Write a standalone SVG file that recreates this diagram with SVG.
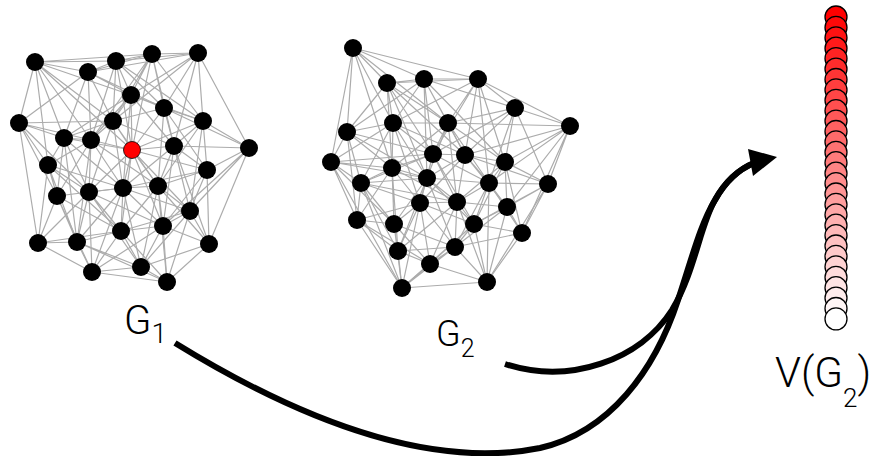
<svg xmlns="http://www.w3.org/2000/svg" width="875" height="456" viewBox="0 0 875 456">
<style>
.e{fill:none;stroke:#acacac;stroke-width:1.2}
.n{fill:#000}
.r{fill:#ff0000;stroke:#000;stroke-width:0.8}
.v{stroke:#000;stroke-width:1.3}
.a{fill:none;stroke:#000;stroke-width:6}
.t{font-family:Roboto,"Liberation Sans",sans-serif;font-weight:300;fill:#000}
</style>
<rect width="875" height="456" fill="#fff"/>
<g id="connectors">
<g id="edges-G1">
<path class="e" d="M35 62L88 72M35 62L116 61M35 62L152 54M35 62L131 95M35 62L19 123M35 62L64 138M35 62L91 140M35 62L113 121M35 62L48 165M35 62L132 150"/>
<path class="e" d="M88 72L116 61M88 72L152 54M88 72L198 53M88 72L131 95M88 72L64 138M88 72L113 121M88 72L164 108M88 72L91 140M88 72L19 123"/>
<path class="e" d="M116 61L152 54M116 61L198 53M116 61L131 95M116 61L113 121M116 61L164 108M116 61L203 121M116 61L91 140M116 61L132 150"/>
<path class="e" d="M152 54L198 53M152 54L131 95M152 54L164 108M152 54L203 121M152 54L113 121M152 54L174 146M152 54L132 150M152 54L91 140"/>
<path class="e" d="M198 53L164 108M198 53L203 121M198 53L249 148M198 53L131 95M198 53L174 146M198 53L113 121"/>
<path class="e" d="M131 95L113 121M131 95L164 108M131 95L203 121M131 95L132 150M131 95L174 146M131 95L91 140M131 95L64 138M131 95L123 188"/>
<path class="e" d="M19 123L64 138M19 123L91 140M19 123L48 165M19 123L57 196M19 123L38 243M19 123L113 121M19 123L89 192"/>
<path class="e" d="M64 138L91 140M64 138L113 121M64 138L48 165M64 138L57 196M64 138L89 192M64 138L123 188M64 138L132 150M64 138L77 242"/>
<path class="e" d="M91 140L113 121M91 140L132 150M91 140L48 165M91 140L57 196M91 140L89 192M91 140L123 188M91 140L158 186M91 140L77 242"/>
<path class="e" d="M113 121L164 108M113 121L132 150M113 121L174 146M113 121L89 192M113 121L123 188M113 121L158 186"/>
<path class="e" d="M164 108L203 121M164 108L132 150M164 108L174 146M164 108L207 170M164 108L158 186M164 108L249 148"/>
<path class="e" d="M203 121L174 146M203 121L249 148M203 121L207 170M203 121L158 186M203 121L190 211M203 121L132 150"/>
<path class="e" d="M132 150L174 146M132 150L89 192M132 150L123 188M132 150L158 186M132 150L190 211M132 150L121 231M132 150L163 226M132 150L207 170"/>
<path class="e" d="M174 146L249 148M174 146L207 170M174 146L123 188M174 146L158 186M174 146L190 211M174 146L163 226M174 146L209 244"/>
<path class="e" d="M249 148L207 170M249 148L190 211M249 148L209 244M249 148L163 226"/>
<path class="e" d="M48 165L57 196M48 165L89 192M48 165L38 243M48 165L77 242M48 165L123 188M48 165L121 231"/>
<path class="e" d="M207 170L158 186M207 170L190 211M207 170L163 226M207 170L209 244M207 170L123 188"/>
<path class="e" d="M57 196L89 192M57 196L38 243M57 196L77 242M57 196L121 231M57 196L92 272M57 196L123 188"/>
<path class="e" d="M89 192L123 188M89 192L121 231M89 192L38 243M89 192L77 242M89 192L92 272M89 192L141 267M89 192L163 226"/>
<path class="e" d="M123 188L158 186M123 188L121 231M123 188L163 226M123 188L77 242M123 188L141 267M123 188L190 211M123 188L92 272"/>
<path class="e" d="M158 186L190 211M158 186L121 231M158 186L163 226M158 186L209 244M158 186L141 267M158 186L167 282"/>
<path class="e" d="M190 211L163 226M190 211L209 244M190 211L141 267M190 211L167 282M190 211L121 231"/>
<path class="e" d="M121 231L163 226M121 231L77 242M121 231L141 267M121 231L92 272M121 231L167 282"/>
<path class="e" d="M163 226L209 244M163 226L141 267M163 226L167 282M163 226L92 272"/>
<path class="e" d="M38 243L77 242M38 243L92 272M38 243L121 231M77 242L92 272M77 242L141 267M77 242L167 282"/>
<path class="e" d="M209 244L141 267M209 244L167 282M141 267L92 272M141 267L167 282M92 272L167 282"/>
</g>
<g id="edges-G2">
<path class="e" d="M353 48L387 83M353 48L424 79M353 48L478 79M353 48L347 132M353 48L393 123M353 48L331 162M353 48L448 123M353 48L392 168"/>
<path class="e" d="M387 83L424 79M387 83L478 79M387 83L347 132M387 83L393 123M387 83L448 123M387 83L433 154M387 83L392 168M387 83L427 178M387 83L465 155"/>
<path class="e" d="M424 79L478 79M424 79L515 108M424 79L393 123M424 79L448 123M424 79L433 154M424 79L465 155M424 79L347 132M424 79L427 178M424 79L505 162"/>
<path class="e" d="M478 79L515 108M478 79L448 123M478 79L433 154M478 79L465 155M478 79L505 162M478 79L570 126M478 79L489 183M478 79L393 123"/>
<path class="e" d="M515 108L448 123M515 108L570 126M515 108L465 155M515 108L505 162M515 108L489 183M515 108L548 184M515 108L433 154"/>
<path class="e" d="M347 132L393 123M347 132L331 162M347 132L392 168M347 132L361 183M347 132L433 154M347 132L357 220M347 132L427 178"/>
<path class="e" d="M393 123L448 123M393 123L331 162M393 123L433 154M393 123L392 168M393 123L361 183M393 123L427 178M393 123L420 203M393 123L465 155"/>
<path class="e" d="M448 123L433 154M448 123L465 155M448 123L505 162M448 123L570 126M448 123L427 178M448 123L489 183M448 123L457 202M448 123L392 168"/>
<path class="e" d="M570 126L505 162M570 126L489 183M570 126L548 184M570 126L507 207M570 126L522 233M570 126L465 155"/>
<path class="e" d="M331 162L392 168M331 162L361 183M331 162L357 220M331 162L402 288M331 162L433 154M331 162L394 224M331 162L427 178"/>
<path class="e" d="M433 154L465 155M433 154L392 168M433 154L427 178M433 154L489 183M433 154L420 203M433 154L457 202M433 154L361 183M433 154L474 224"/>
<path class="e" d="M465 155L505 162M465 155L427 178M465 155L489 183M465 155L457 202M465 155L507 207M465 155L548 184M465 155L420 203"/>
<path class="e" d="M392 168L361 183M392 168L427 178M392 168L420 203M392 168L357 220M392 168L394 224M392 168L398 251M392 168L457 202"/>
<path class="e" d="M505 162L489 183M505 162L548 184M505 162L457 202M505 162L507 207M505 162L474 224M505 162L522 233"/>
<path class="e" d="M361 183L427 178M361 183L420 203M361 183L357 220M361 183L394 224M361 183L398 251M361 183L402 288M361 183L457 202"/>
<path class="e" d="M427 178L489 183M427 178L420 203M427 178L457 202M427 178L394 224M427 178L398 251M427 178L474 224M427 178L455 247"/>
<path class="e" d="M489 183L548 184M489 183L457 202M489 183L507 207M489 183L474 224M489 183L522 233M489 183L455 247M489 183L487 282"/>
<path class="e" d="M548 184L507 207M548 184L522 233M548 184L474 224M548 184L487 282"/>
<path class="e" d="M420 203L457 202M420 203L394 224M420 203L474 224M420 203L398 251M420 203L455 247M420 203L430 264M420 203L402 288"/>
<path class="e" d="M457 202L507 207M457 202L474 224M457 202L398 251M457 202L455 247M457 202L430 264M457 202L487 282"/>
<path class="e" d="M507 207L474 224M507 207L522 233M507 207L455 247M507 207L487 282"/>
<path class="e" d="M357 220L394 224M357 220L398 251M357 220L402 288M357 220L420 203M357 220L430 264"/>
<path class="e" d="M394 224L398 251M394 224L455 247M394 224L430 264M394 224L402 288"/>
<path class="e" d="M474 224L522 233M474 224L455 247M474 224L430 264M474 224L487 282M474 224L402 288"/>
<path class="e" d="M522 233L487 282M522 233L455 247M398 251L430 264M398 251L402 288M398 251L455 247"/>
<path class="e" d="M455 247L430 264M455 247L487 282M455 247L402 288M430 264L487 282M430 264L402 288M487 282L402 288"/>
</g>
<g id="arrows">
<path class="a" d="M175 343C300 420 430 470 540 448C610 432 655 370 678 300C692 258 700 225 715 200C725 182 737 170 754 163"/>
<path class="a" d="M505 364C570 385 640 360 672 310C695 272 700 225 715 200C725 182 737 170 754 163"/>
<polygon points="777,157 748,149 753,176" fill="#000"/>
</g>
</g>
<g id="G1">
<g id="g1-n1"><circle class="n" cx="35" cy="62" r="9"/></g>
<g id="g1-n2"><circle class="n" cx="88" cy="72" r="9"/></g>
<g id="g1-n3"><circle class="n" cx="116" cy="61" r="9"/></g>
<g id="g1-n4"><circle class="n" cx="152" cy="54" r="9"/></g>
<g id="g1-n5"><circle class="n" cx="198" cy="53" r="9"/></g>
<g id="g1-n6"><circle class="n" cx="131" cy="95" r="9"/></g>
<g id="g1-n7"><circle class="n" cx="19" cy="123" r="9"/></g>
<g id="g1-n8"><circle class="n" cx="64" cy="138" r="9"/></g>
<g id="g1-n9"><circle class="n" cx="91" cy="140" r="9"/></g>
<g id="g1-n10"><circle class="n" cx="113" cy="121" r="9"/></g>
<g id="g1-n11"><circle class="n" cx="164" cy="108" r="9"/></g>
<g id="g1-n12"><circle class="n" cx="203" cy="121" r="9"/></g>
<g id="g1-n13"><circle class="r" cx="132" cy="150" r="8.5"/></g>
<g id="g1-n14"><circle class="n" cx="174" cy="146" r="9"/></g>
<g id="g1-n15"><circle class="n" cx="249" cy="148" r="9"/></g>
<g id="g1-n16"><circle class="n" cx="48" cy="165" r="9"/></g>
<g id="g1-n17"><circle class="n" cx="207" cy="170" r="9"/></g>
<g id="g1-n18"><circle class="n" cx="57" cy="196" r="9"/></g>
<g id="g1-n19"><circle class="n" cx="89" cy="192" r="9"/></g>
<g id="g1-n20"><circle class="n" cx="123" cy="188" r="9"/></g>
<g id="g1-n21"><circle class="n" cx="158" cy="186" r="9"/></g>
<g id="g1-n22"><circle class="n" cx="190" cy="211" r="9"/></g>
<g id="g1-n23"><circle class="n" cx="121" cy="231" r="9"/></g>
<g id="g1-n24"><circle class="n" cx="163" cy="226" r="9"/></g>
<g id="g1-n25"><circle class="n" cx="38" cy="243" r="9"/></g>
<g id="g1-n26"><circle class="n" cx="77" cy="242" r="9"/></g>
<g id="g1-n27"><circle class="n" cx="209" cy="244" r="9"/></g>
<g id="g1-n28"><circle class="n" cx="141" cy="267" r="9"/></g>
<g id="g1-n29"><circle class="n" cx="92" cy="272" r="9"/></g>
<g id="g1-n30"><circle class="n" cx="167" cy="282" r="9"/></g>
</g>
<g id="G2">
<g id="g2-n1"><circle class="n" cx="353" cy="48" r="9"/></g>
<g id="g2-n2"><circle class="n" cx="387" cy="83" r="9"/></g>
<g id="g2-n3"><circle class="n" cx="424" cy="79" r="9"/></g>
<g id="g2-n4"><circle class="n" cx="478" cy="79" r="9"/></g>
<g id="g2-n5"><circle class="n" cx="515" cy="108" r="9"/></g>
<g id="g2-n6"><circle class="n" cx="347" cy="132" r="9"/></g>
<g id="g2-n7"><circle class="n" cx="393" cy="123" r="9"/></g>
<g id="g2-n8"><circle class="n" cx="448" cy="123" r="9"/></g>
<g id="g2-n9"><circle class="n" cx="570" cy="126" r="9"/></g>
<g id="g2-n10"><circle class="n" cx="331" cy="162" r="9"/></g>
<g id="g2-n11"><circle class="n" cx="433" cy="154" r="9"/></g>
<g id="g2-n12"><circle class="n" cx="465" cy="155" r="9"/></g>
<g id="g2-n13"><circle class="n" cx="392" cy="168" r="9"/></g>
<g id="g2-n14"><circle class="n" cx="505" cy="162" r="9"/></g>
<g id="g2-n15"><circle class="n" cx="361" cy="183" r="9"/></g>
<g id="g2-n16"><circle class="n" cx="427" cy="178" r="9"/></g>
<g id="g2-n17"><circle class="n" cx="489" cy="183" r="9"/></g>
<g id="g2-n18"><circle class="n" cx="548" cy="184" r="9"/></g>
<g id="g2-n19"><circle class="n" cx="420" cy="203" r="9"/></g>
<g id="g2-n20"><circle class="n" cx="457" cy="202" r="9"/></g>
<g id="g2-n21"><circle class="n" cx="507" cy="207" r="9"/></g>
<g id="g2-n22"><circle class="n" cx="357" cy="220" r="9"/></g>
<g id="g2-n23"><circle class="n" cx="394" cy="224" r="9"/></g>
<g id="g2-n24"><circle class="n" cx="474" cy="224" r="9"/></g>
<g id="g2-n25"><circle class="n" cx="522" cy="233" r="9"/></g>
<g id="g2-n26"><circle class="n" cx="398" cy="251" r="9"/></g>
<g id="g2-n27"><circle class="n" cx="455" cy="247" r="9"/></g>
<g id="g2-n28"><circle class="n" cx="430" cy="264" r="9"/></g>
<g id="g2-n29"><circle class="n" cx="487" cy="282" r="9"/></g>
<g id="g2-n30"><circle class="n" cx="402" cy="288" r="9"/></g>
</g>
<g id="vector">
<g id="v1"><circle class="v" cx="836" cy="17.0" r="11" fill="rgb(255,0,0)"/></g>
<g id="v2"><circle class="v" cx="836" cy="27.4" r="11" fill="rgb(255,9,9)"/></g>
<g id="v3"><circle class="v" cx="836" cy="37.8" r="11" fill="rgb(255,18,18)"/></g>
<g id="v4"><circle class="v" cx="836" cy="48.2" r="11" fill="rgb(255,26,26)"/></g>
<g id="v5"><circle class="v" cx="836" cy="58.6" r="11" fill="rgb(255,35,35)"/></g>
<g id="v6"><circle class="v" cx="836" cy="69.1" r="11" fill="rgb(255,44,44)"/></g>
<g id="v7"><circle class="v" cx="836" cy="79.5" r="11" fill="rgb(255,53,53)"/></g>
<g id="v8"><circle class="v" cx="836" cy="89.9" r="11" fill="rgb(255,62,62)"/></g>
<g id="v9"><circle class="v" cx="836" cy="100.3" r="11" fill="rgb(255,70,70)"/></g>
<g id="v10"><circle class="v" cx="836" cy="110.7" r="11" fill="rgb(255,79,79)"/></g>
<g id="v11"><circle class="v" cx="836" cy="121.1" r="11" fill="rgb(255,88,88)"/></g>
<g id="v12"><circle class="v" cx="836" cy="131.5" r="11" fill="rgb(255,97,97)"/></g>
<g id="v13"><circle class="v" cx="836" cy="141.9" r="11" fill="rgb(255,106,106)"/></g>
<g id="v14"><circle class="v" cx="836" cy="152.3" r="11" fill="rgb(255,114,114)"/></g>
<g id="v15"><circle class="v" cx="836" cy="162.7" r="11" fill="rgb(255,123,123)"/></g>
<g id="v16"><circle class="v" cx="836" cy="173.2" r="11" fill="rgb(255,132,132)"/></g>
<g id="v17"><circle class="v" cx="836" cy="183.6" r="11" fill="rgb(255,141,141)"/></g>
<g id="v18"><circle class="v" cx="836" cy="194.0" r="11" fill="rgb(255,149,149)"/></g>
<g id="v19"><circle class="v" cx="836" cy="204.4" r="11" fill="rgb(255,158,158)"/></g>
<g id="v20"><circle class="v" cx="836" cy="214.8" r="11" fill="rgb(255,167,167)"/></g>
<g id="v21"><circle class="v" cx="836" cy="225.2" r="11" fill="rgb(255,176,176)"/></g>
<g id="v22"><circle class="v" cx="836" cy="235.6" r="11" fill="rgb(255,185,185)"/></g>
<g id="v23"><circle class="v" cx="836" cy="246.0" r="11" fill="rgb(255,193,193)"/></g>
<g id="v24"><circle class="v" cx="836" cy="256.4" r="11" fill="rgb(255,202,202)"/></g>
<g id="v25"><circle class="v" cx="836" cy="266.8" r="11" fill="rgb(255,211,211)"/></g>
<g id="v26"><circle class="v" cx="836" cy="277.3" r="11" fill="rgb(255,220,220)"/></g>
<g id="v27"><circle class="v" cx="836" cy="287.7" r="11" fill="rgb(255,229,229)"/></g>
<g id="v28"><circle class="v" cx="836" cy="298.1" r="11" fill="rgb(255,237,237)"/></g>
<g id="v29"><circle class="v" cx="836" cy="308.5" r="11" fill="rgb(255,246,246)"/></g>
<g id="v30"><circle class="v" cx="836" cy="318.9" r="11" fill="rgb(255,255,255)"/></g>
</g>
<g id="labels">
<text class="t" x="124" y="334" font-size="40">G<tspan font-size="28" dy="9">1</tspan></text>
<text class="t" x="436" y="346" font-size="36">G<tspan font-size="25" dy="11">2</tspan></text>
<text class="t" x="775" y="387" font-size="42">V(G<tspan font-size="26" dy="20">2</tspan><tspan dy="-20">)</tspan></text>
</g>
</svg>
